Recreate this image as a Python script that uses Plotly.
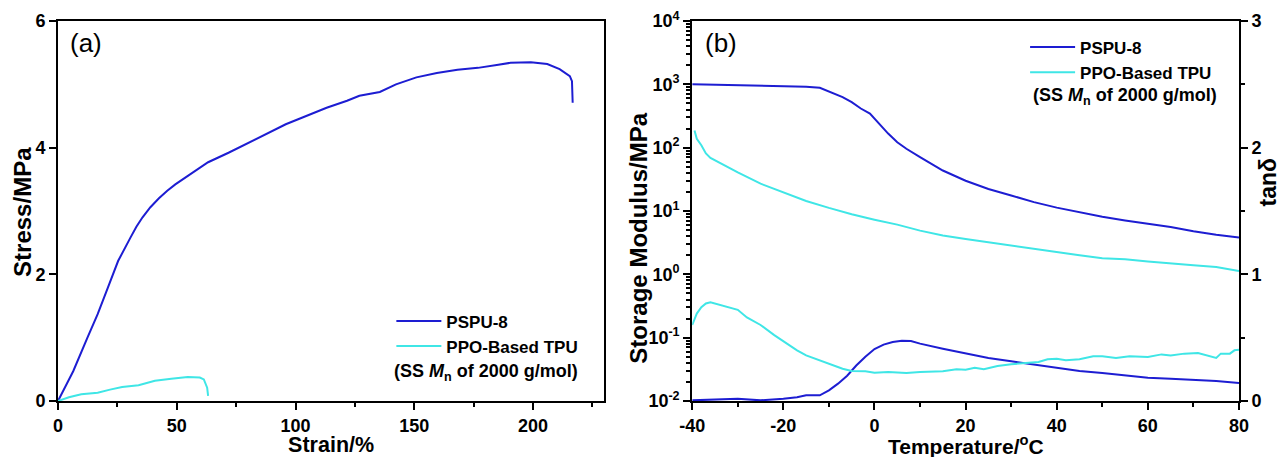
import plotly.graph_objects as go

# ---------------- data: panel (a) stress-strain ----------------
pspu_strain = [0, 6.4, 12.4, 16.7, 21, 25.3, 30.5, 33, 35.6, 38.9, 42.5, 46, 49.4, 56.3, 63.2,
               71.8, 78.7, 87.3, 95.9, 104.5, 113.1, 121.7, 126.9, 135.5, 142.3, 150.9, 159.5,
               168.2, 176.8, 185.4, 190.5, 199.1, 206, 211.2, 215.5, 216.4, 216.7]
pspu_stress = [0, 0.47, 1.0, 1.37, 1.79, 2.21, 2.58, 2.75, 2.9, 3.06, 3.2, 3.32, 3.42, 3.6, 3.77,
               3.92, 4.05, 4.21, 4.37, 4.5, 4.63, 4.74, 4.82, 4.88, 5.0, 5.11, 5.18,
               5.23, 5.26, 5.31, 5.34, 5.35, 5.32, 5.24, 5.13, 5.05, 4.71]
ppo_strain = [0, 4.6, 9.8, 16.7, 21.9, 27, 33.9, 40.8, 47.7, 54.6, 59.7, 61.4, 62.8, 63.2]
ppo_stress = [0, 0.06, 0.105, 0.13, 0.18, 0.22, 0.25, 0.32, 0.35, 0.38, 0.37, 0.34, 0.21, 0.08]

# ---------------- data: panel (b) DMA ----------------
pspu_T_mod = [-40, -30, -20, -15, -12, -10, -7, -5, -3, -1, 0, 1, 3, 5, 7, 10, 15, 20, 25, 30,
              35, 40, 45, 50, 55, 60, 65, 70, 75, 80]
pspu_mod = [1000, 970, 950, 920, 880, 776, 630, 525, 415, 345, 288, 240, 167, 122, 96, 71, 43.6,
            30, 22.2, 17.6, 13.8, 11.3, 9.6, 8.1, 7.1, 6.3, 5.6, 4.8, 4.2, 3.8]

ppo_T_mod = [-39.5, -39, -38, -37, -36, -33, -30, -25, -20, -15, -10, -5, 0, 5, 10, 15, 20, 25,
             30, 35, 40, 45, 50, 55, 60, 65, 70, 75, 78, 80]
ppo_mod = [187, 138, 109, 81, 69, 53, 40.6, 27, 19.5, 14.4, 11.2, 8.9, 7.3, 6.1, 4.9, 4.1, 3.6,
           3.2, 2.77, 2.47, 2.2, 2.0, 1.8, 1.73, 1.6, 1.48, 1.39, 1.31, 1.2, 1.13]

pspu_T_tan = [-40, -35, -30, -25, -22, -20, -17, -15, -12, -10, -8, -6, -4, -2, 0, 2, 4, 6, 8,
              10, 15, 20, 25, 30, 35, 40, 45, 50, 55, 60, 65, 70, 75, 80]
pspu_tan = [0.005, 0.01, 0.018, 0.005, 0.01, 0.018, 0.03, 0.045, 0.045, 0.084, 0.137, 0.2, 0.28,
            0.35, 0.41, 0.445, 0.466, 0.476, 0.474, 0.453, 0.413, 0.374, 0.34, 0.313, 0.287,
            0.263, 0.237, 0.221, 0.203, 0.184, 0.176, 0.168, 0.158, 0.142]

ppo_T_tan = [-40, -39, -38, -37, -36, -34, -32, -30, -28, -25, -22, -20, -17, -15, -12, -10, -7,
             -5, -2, 0, 3, 7, 10, 15, 18, 20, 22, 24, 27, 30, 33, 36, 38, 40, 42, 45, 48, 50,
             53, 56, 60, 63, 65, 68, 71, 73, 75, 76, 78, 79, 80]
ppo_tan = [0.6, 0.69, 0.74, 0.77, 0.78, 0.76, 0.74, 0.72, 0.66, 0.6, 0.52, 0.47, 0.4, 0.36, 0.32,
           0.29, 0.255, 0.237, 0.234, 0.224, 0.229, 0.221, 0.229, 0.234, 0.25, 0.247, 0.263,
           0.25, 0.276, 0.29, 0.3, 0.308, 0.329, 0.334, 0.321, 0.329, 0.353, 0.353, 0.34, 0.353,
           0.347, 0.368, 0.36, 0.374, 0.379, 0.36, 0.34, 0.374, 0.374, 0.4, 0.405]

names = ["PSPU-8", "PPO-Based TPU"]
note_text = "(SS <i>M</i><sub>n</sub> of 2000 g/mol)"
a_ticks = [0, 50, 100, 150, 200]
a_yticks = [0, 2, 4, 6]
b_xticks = [-40, -20, 0, 20, 40, 60, 80]
b_xtext = ["-40", "-20", "0", "20", "40", "60", "80"]
b_ymod_vals = [0.01, 0.1, 1, 10, 100, 1000, 10000]
b_ymod_text = ["10<sup>-2</sup>", "10<sup>-1</sup>", "10<sup>0</sup>", "10<sup>1</sup>",
               "10<sup>2</sup>", "10<sup>3</sup>", "10<sup>4</sup>"]
b_tan_ticks = [0, 1, 2, 3]

BLUE = "#1d1dd2"
CYAN = "#3fe6e6"
FONT = "Liberation Sans, Arial, sans-serif"
W, H = 1280, 457
L, R, T, B = 57.5, 1239.0, 20.5, 400.7   # plot-area edges in pixels


def px_x(p):
    return (p - L) / (R - L)


def px_y(p):
    return (B - p) / (B - T)


fig = go.Figure()

# panel (a)
fig.add_trace(go.Scatter(x=pspu_strain, y=pspu_stress, mode="lines", name=names[0],
                         line=dict(color=BLUE, width=2), xaxis="x", yaxis="y", legend="legend"))
fig.add_trace(go.Scatter(x=ppo_strain, y=ppo_stress, mode="lines", name=names[1],
                         line=dict(color=CYAN, width=2), xaxis="x", yaxis="y", legend="legend"))

# panel (b)
fig.add_trace(go.Scatter(x=pspu_T_mod, y=pspu_mod, mode="lines", name=names[0],
                         line=dict(color=BLUE, width=2), xaxis="x2", yaxis="y2", legend="legend2"))
fig.add_trace(go.Scatter(x=ppo_T_mod, y=ppo_mod, mode="lines", name=names[1],
                         line=dict(color=CYAN, width=2), xaxis="x2", yaxis="y2", legend="legend2"))
fig.add_trace(go.Scatter(x=pspu_T_tan, y=pspu_tan, mode="lines", name=names[0], showlegend=False,
                         line=dict(color=BLUE, width=2), xaxis="x2", yaxis="y3"))
fig.add_trace(go.Scatter(x=ppo_T_tan, y=ppo_tan, mode="lines", name=names[1], showlegend=False,
                         line=dict(color=CYAN, width=2), xaxis="x2", yaxis="y3"))

tickfont = dict(family=FONT, size=18, color="black", weight="bold")
htitle = dict(family=FONT, size=21.5, color="black", weight="bold")
common = dict(showgrid=False, zeroline=False, showline=True, linecolor="black", linewidth=2,
              ticks="outside", ticklen=7, tickwidth=2, tickcolor="black", tickfont=tickfont,
              automargin=False)
minor_style = dict(ticks="outside", ticklen=4, tickwidth=2, tickcolor="black")
legend_font = dict(family=FONT, size=17, color="black", weight="bold")
vfont = dict(family=FONT, size=24, color="black", weight="bold")

fig.update_layout(
    width=W, height=H,
    margin=dict(l=L, r=W - R, t=T, b=H - B, autoexpand=False),
    paper_bgcolor="white", plot_bgcolor="white",
    font=dict(family=FONT, color="black"),
    xaxis=dict(domain=[0, px_x(604)], range=[0, 230], tickvals=a_ticks, anchor="y",
               mirror=True, minor=dict(dtick=25, **minor_style),
               title=dict(text="Strain/%", font=htitle, standoff=6), **common),
    yaxis=dict(domain=[0, 1], range=[0, 6], tickvals=a_yticks, anchor="x", mirror=True,
               **common),
    xaxis2=dict(domain=[px_x(692), 1], range=[-40, 80], tickvals=b_xticks, ticktext=b_xtext,
                anchor="y2", mirror=True, minor=dict(dtick=10, **minor_style), **common),
    yaxis2=dict(domain=[0, 1], type="log", range=[-2, 4], tickvals=b_ymod_vals,
                ticktext=b_ymod_text, anchor="x2",
                minor=dict(dtick="D1", ticks="outside", ticklen=4, tickwidth=1.5,
                           tickcolor="black"),
                **common),
    yaxis3=dict(range=[0, 3], tickvals=b_tan_ticks, anchor="x2", overlaying="y2", side="right",
                minor=dict(dtick=0.5, **minor_style), **common),
    legend=dict(x=px_x(391), y=px_y(303), xanchor="left", yanchor="top",
                bgcolor="rgba(0,0,0,0)", font=legend_font, itemwidth=45, tracegroupgap=0),
    legend2=dict(x=px_x(1025), y=px_y(29), xanchor="left", yanchor="top",
                 bgcolor="rgba(0,0,0,0)", font=legend_font, itemwidth=45, tracegroupgap=0),
    showlegend=True,
)

annos = [
    dict(text="(a)", x=px_x(68), y=px_y(43), xanchor="left", yanchor="middle",
         font=dict(family=FONT, size=26, color="black")),
    dict(text="(b)", x=px_x(703), y=px_y(43), xanchor="left", yanchor="middle",
         font=dict(family=FONT, size=26, color="black")),
    dict(text=note_text, x=px_x(392), y=px_y(372), xanchor="left", yanchor="middle",
         font=dict(family=FONT, size=18, color="black", weight="bold")),
    dict(text=note_text, x=px_x(1031), y=px_y(96), xanchor="left", yanchor="middle",
         font=dict(family=FONT, size=18, color="black", weight="bold")),
    # axis titles drawn as text
    dict(text="Temperature/<sup>o</sup>C", x=px_x(965.5), y=px_y(445), xanchor="center",
         yanchor="middle", font=dict(family=FONT, size=21, color="black", weight="bold")),
    dict(text="Stress/MPa", x=px_x(22), y=px_y(212), xanchor="center", yanchor="middle",
         textangle=-90, font=vfont),
    dict(text="Storage Modulus/MPa", x=px_x(638), y=px_y(238), xanchor="center",
         yanchor="middle", textangle=-90, font=vfont),
    dict(text="tanδ", x=px_x(1268), y=px_y(182), xanchor="center", yanchor="middle",
         textangle=-90, font=dict(family=FONT, size=23, color="black", weight="bold")),
]
for a in annos:
    a.update(xref="paper", yref="paper", showarrow=False)
fig.update_layout(annotations=annos)

fig.write_html("out.html")
